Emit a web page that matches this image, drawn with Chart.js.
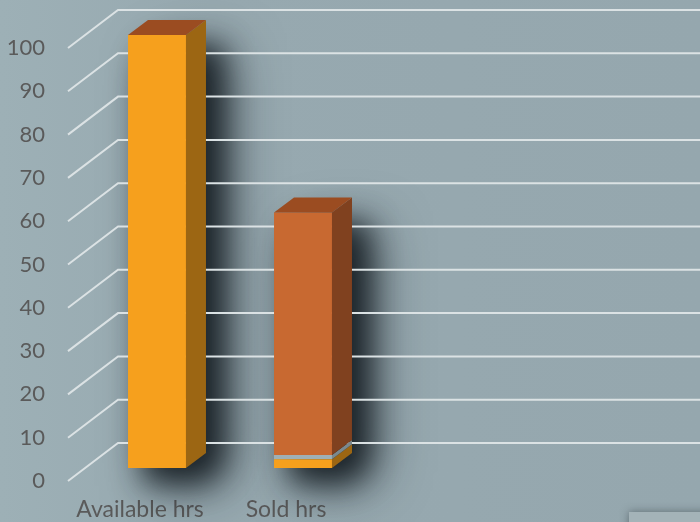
<!DOCTYPE html>
<html>
<head>
<meta charset="utf-8">
<script src="https://cdn.jsdelivr.net/npm/chart.js@4.4.1/dist/chart.umd.min.js"></script>
<style>
  html, body { margin: 0; padding: 0; background: #97a9b0; }
  #wrap { width: 700px; height: 522px; position: relative; }
</style>
</head>
<body>
<div id="wrap"><canvas id="c" width="700" height="522"></canvas></div>
<script>
// ---- data ----
const categories = ['Available hrs', 'Sold hrs'];
const seriesBase = [100, 2];     // orange
const seriesMid = [0, 1];        // grey band
const seriesTop = [0, 56];       // dark orange
const yTicks = [0, 10, 20, 30, 40, 50, 60, 70, 80, 90, 100];

// ---- styles ----
const frontColors = ['#f6a01d', '#9fb0b5', '#c86931'];
const sideColors = ['#9c6613', '#7b898e', '#80411f'];
const topFaceColor = '#9b4c21';
const DX = 20, DY = -15;          // bar depth
const GRID_BACK_DY = -25;
const GRID_FRONT_DY = 13;

const threeD = {
  id: 'threeD',
  beforeDraw(chart) {
    const ctx = chart.ctx;
    const g = ctx.createLinearGradient(0, 0, 700, 0);
    g.addColorStop(0, '#9db0b6');
    g.addColorStop(0.3, '#97a9b0');
    g.addColorStop(1, '#95a7ae');
    ctx.save();
    ctx.fillStyle = g;
    ctx.fillRect(0, 0, chart.width, chart.height);
    ctx.restore();
  },
  beforeDatasetsDraw(chart) {
    const ctx = chart.ctx;
    const y = chart.scales.y;
    const n = categories.length;
    ctx.save();
    for (let i = 0; i < n; i++) {
      let top = null, bot = null, L = null, R = null;
      chart.data.datasets.forEach((ds, di) => {
        const el = chart.getDatasetMeta(di).data[i];
        if (!el || !ds.data[i]) return;
        const p = el.getProps(['x', 'y', 'base', 'width'], true);
        L = p.x - p.width / 2; R = p.x + p.width / 2;
        top = top === null ? p.y : Math.min(top, p.y);
        bot = bot === null ? p.base : Math.max(bot, p.base);
      });
      if (top === null) continue;
      const off = 3000;
      for (let k = 0; k < 2; k++) {
        ctx.shadowColor = k === 0 ? 'rgba(20,28,33,0.9)' : 'rgba(20,28,33,0.55)';
        ctx.shadowBlur = k === 0 ? 30 : 50;
        ctx.shadowOffsetX = off + (k === 0 ? 16 : 26);
        ctx.shadowOffsetY = k === 0 ? 14 : 18;
        ctx.fillStyle = '#000';
        ctx.beginPath();
        ctx.moveTo(L - off, top + 12);
        ctx.lineTo(L + DX - off, top + DY + 12);
        ctx.lineTo(R + DX - off, top + DY + 12);
        ctx.lineTo(R + DX - off, bot + DY);
        ctx.lineTo(R - off, bot);
        ctx.lineTo(L - off, bot);
        ctx.closePath();
        ctx.fill();
      }
    }
    ctx.restore();
    // legend box stub (bottom right)
    ctx.save();
    ctx.shadowColor = 'rgba(40,50,55,0.5)';
    ctx.shadowBlur = 8;
    ctx.fillStyle = '#a4b3b8';
    ctx.fillRect(629, 512, 80, 20);
    ctx.restore();
    // grid wall
    ctx.save();
    ctx.strokeStyle = '#dbe2e4';
    ctx.lineWidth = 2;
    const xf = 68, xb = 118;
    yTicks.forEach(v => {
      const py = y.getPixelForValue(v);
      ctx.beginPath();
      ctx.moveTo(xf, py + GRID_FRONT_DY);
      ctx.lineTo(xb, py + GRID_BACK_DY);
      ctx.lineTo(chart.width, py + GRID_BACK_DY);
      ctx.stroke();
    });
    ctx.restore();
  },
  afterDatasetsDraw(chart) {
    const ctx = chart.ctx;
    const n = categories.length;
    ctx.save();
    for (let i = 0; i < n; i++) {
      let topmost = null;
      chart.data.datasets.forEach((ds, di) => {
        const el = chart.getDatasetMeta(di).data[i];
        if (!el || !ds.data[i]) return;
        const p = el.getProps(['x', 'y', 'base', 'width'], true);
        const L = p.x - p.width / 2, R = p.x + p.width / 2;
        ctx.fillStyle = sideColors[di];
        ctx.beginPath();
        ctx.moveTo(R, p.y);
        ctx.lineTo(R + DX, p.y + DY);
        ctx.lineTo(R + DX, p.base + DY);
        ctx.lineTo(R, p.base);
        ctx.closePath();
        ctx.fill();
        if (topmost === null || p.y < topmost.y) topmost = { y: p.y, L, R };
      });
      if (topmost) {
        const { y: T, L, R } = topmost;
        ctx.fillStyle = topFaceColor;
        ctx.beginPath();
        ctx.moveTo(L, T);
        ctx.lineTo(L + DX, T + DY);
        ctx.lineTo(R + DX, T + DY);
        ctx.lineTo(R, T);
        ctx.closePath();
        ctx.fill();
      }
    }
    ctx.restore();
  }
};

const fontFam = "Lato, 'Open Sans', sans-serif";

new Chart(document.getElementById('c'), {
  type: 'bar',
  data: {
    labels: categories,
    datasets: [
      { label: 'Series 1', data: seriesBase, backgroundColor: frontColors[0] },
      { label: 'Series 2', data: seriesMid, backgroundColor: frontColors[1] },
      { label: 'Series 3', data: seriesTop, backgroundColor: frontColors[2] }
    ]
  },
  options: {
    responsive: false,
    animation: false,
    layout: { padding: { left: 0, top: 35, right: 324, bottom: 0 } },
    datasets: { bar: { categoryPercentage: 1, barPercentage: 0.397, borderWidth: 0 } },
    plugins: { legend: { display: false }, tooltip: { enabled: false } },
    scales: {
      x: {
        stacked: true,
        grid: { display: false, drawTicks: false },
        border: { display: false },
        ticks: { color: '#5a5a5a', font: { family: fontFam, size: 23 }, padding: 28, labelOffset: -17, maxRotation: 0, autoSkip: false },
        afterFit(s) { s.height = 54; s.paddingLeft = 0; s.paddingRight = 0; }
      },
      y: {
        stacked: true,
        min: 0, max: 100,
        afterBuildTicks(s) { s.ticks = yTicks.map(v => ({ value: v })); },
        grid: { display: false, drawTicks: false },
        border: { display: false },
        ticks: { color: '#5a5a5a', font: { family: fontFam, size: 22 }, padding: 39, labelOffset: 13 },
        afterFit(s) { s.width = 84; s.paddingTop = 0; s.paddingBottom = 0; }
      }
    }
  },
  plugins: [threeD]
});
</script>
</body>
</html>
